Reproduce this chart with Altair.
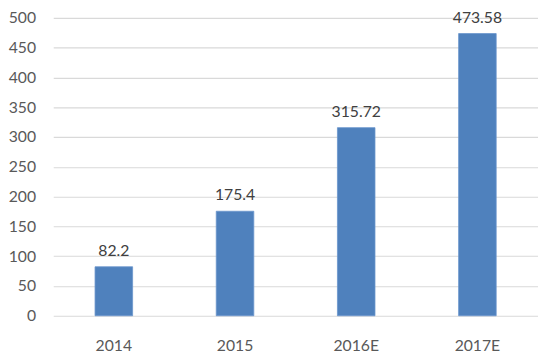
import altair as alt
import pandas as pd

years = ["2014", "2015", "2016E", "2017E"]
values = [82.2, 175.4, 315.72, 473.58]
labels = ["82.2", "175.4", "315.72", "473.58"]

df = pd.DataFrame({"year": years, "value": values, "label": labels})

font = "Lato"
tc = "#595959"

base = alt.Chart(df).encode(
    x=alt.X("year:N", sort=years, title=None,
            scale=alt.Scale(paddingInner=0.69, paddingOuter=0.345),
            axis=alt.Axis(labelAngle=0, labelFont=font, labelFontSize=16, labelColor=tc,
                          labelPadding=22, ticks=False, domain=False, grid=False)),
    y=alt.Y("value:Q", title=None,
            scale=alt.Scale(domain=[0, 500], nice=False),
            axis=alt.Axis(values=list(range(0, 501, 50)), labelFont=font, labelFontSize=16,
                          labelColor=tc, labelPadding=18, ticks=False, domain=False,
                          labelOverlap=False,
                          grid=True, gridColor="#D9D9D9", gridWidth=1.2)),
)

bars = base.mark_bar(color="#4F81BD", stroke="#6A95CC", strokeWidth=0.8)

text = base.mark_text(font=font, fontSize=16, color="#404040", baseline="alphabetic", dy=-11).encode(
    text="label:N"
)

chart = (bars + text).properties(
    width=493, height=303,
    autosize=alt.AutoSizeParams(type="none"),
    padding={"left": 46, "top": 7, "right": 0, "bottom": 42},
).configure_view(stroke=None)

chart.save("out.html", embed_options={"renderer": "svg", "actions": False})
